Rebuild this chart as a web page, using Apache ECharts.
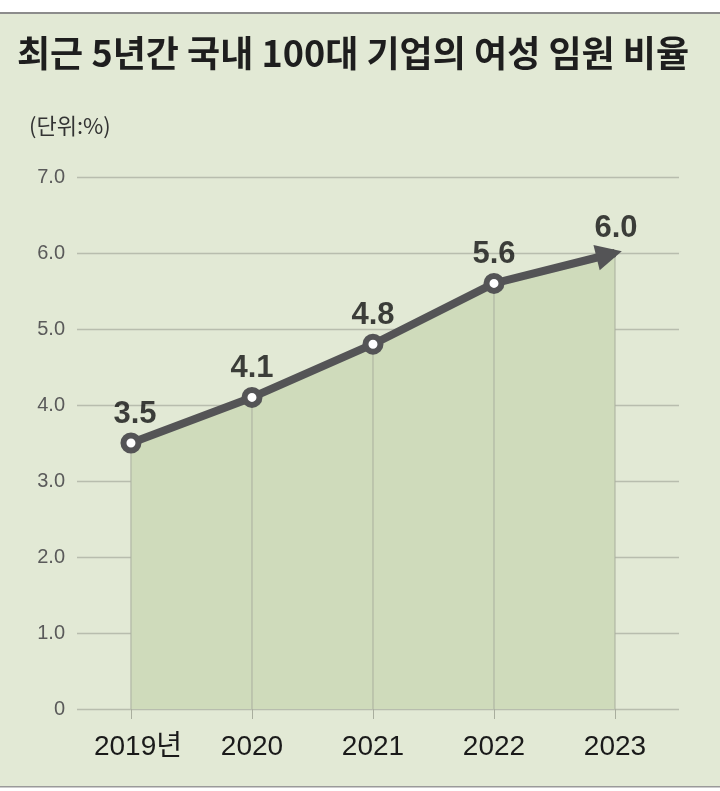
<!DOCTYPE html>
<html>
<head>
<meta charset="utf-8">
<script src="https://cdn.jsdelivr.net/npm/echarts@6/dist/echarts.min.js"></script>
<style>
html,body{margin:0;padding:0;background:#fff;}
#chart{width:720px;height:791px;}
</style>
</head>
<body>
<div id="chart"></div>
<script>
const years = [2019, 2020, 2021, 2022, 2023];
const yearLabels = ['2019년', '2020', '2021', '2022', '2023'];
const ratios = [3.5, 4.1, 4.8, 5.6, 6.0];
const yMin = 0, yMax = 7, yStep = 1;
const titleText = '최근 5년간 국내 100대 기업의 여성 임원 비율';
const unitText = '(단위:%)';

const NARROW = "'Liberation Sans Narrow', 'Liberation Sans', 'Noto Sans CJK KR', sans-serif";
const KR = "'Noto Sans CJK KR', sans-serif";
const lineColor = '#545456';

const points = years.map((y, i) => [y, ratios[i]]);
const lineData = points.map((p, i) => {
  if (i < points.length - 1) return { value: p };
  return {
    value: p,
    symbol: 'triangle',
    symbolSize: [26, 26],
    symbolRotate: -76,
    symbolOffset: [-5.8, 1.5],
    itemStyle: { color: lineColor, borderWidth: 0 }
  };
});
const labelData = points.map((p, i) => {
  const d = { value: p };
  if (i === 0) d.label = { offset: [4, 0] };
  if (i === points.length - 1) d.label = { distance: 9, offset: [1, 0] };
  return d;
});

const chart = echarts.init(document.getElementById('chart'));
chart.setOption({
  backgroundColor: '#ffffff',
  animation: false,
  graphic: [
    { type: 'rect', z: -100, silent: true, shape: { x: 0, y: 12, width: 720, height: 775 }, style: { fill: '#e2e9d5' } },
    { type: 'rect', z: -99, silent: true, shape: { x: 0, y: 12, width: 720, height: 2 }, style: { fill: '#8c8c8c' } },
    { type: 'rect', z: -99, silent: true, shape: { x: 0, y: 786, width: 720, height: 1.5 }, style: { fill: '#9a9a9a' } }
  ],
  title: [
    { text: titleText, left: 17, top: 35, padding: 0,
      textStyle: { fontFamily: KR, fontSize: 36, fontWeight: 'bold', color: '#1e1e1e' } },
    { text: unitText, left: 29, top: 115, padding: 0,
      textStyle: { fontFamily: KR, fontSize: 22, fontWeight: 'normal', color: '#333' } }
  ],
  grid: { left: 77, right: 41, top: 177, bottom: 82, containLabel: false, outerBoundsMode: 'none' },
  xAxis: {
    type: 'value',
    min: 2018.554,
    max: 2023.529,
    axisLine: { show: false },
    splitLine: { show: false },
    axisTick: { show: true, customValues: years, length: 10, lineStyle: { color: '#a9ae9e', width: 1 } },
    axisLabel: {
      customValues: years,
      margin: 24,
      fontFamily: NARROW,
      fontSize: 28,
      color: '#1a1a1a',
      formatter: v => {
        const i = years.indexOf(Math.round(v));
        return i === 0 ? '{f|' + yearLabels[i] + '}' : yearLabels[i];
      },
      rich: { f: { fontFamily: NARROW, fontSize: 28, color: '#1a1a1a', padding: [0, 0, 0, 14] } }
    }
  },
  yAxis: {
    type: 'value',
    min: yMin, max: yMax, interval: yStep,
    axisLine: { show: false },
    axisTick: { show: false },
    splitLine: { show: true, lineStyle: { color: '#b8bdae', width: 1.3 } },
    axisLabel: {
      margin: 12,
      fontFamily: NARROW,
      fontSize: 20,
      color: '#5a5a5a',
      formatter: v => v === 0 ? '0' : v.toFixed(1)
    }
  },
  series: [
    {
      name: 'area', type: 'line', z: 1, data: points, symbol: 'none', silent: true,
      lineStyle: { width: 0, opacity: 0 },
      areaStyle: { color: '#cfdbbb', opacity: 1 }
    },
    {
      name: 'stems', type: 'bar', z: 2, data: points, barWidth: 1, silent: true,
      itemStyle: { color: '#a9ae9e' }
    },
    {
      name: 'ratio', type: 'line', z: 3, data: lineData,
      symbol: 'circle', symbolSize: 15,
      itemStyle: { color: '#ffffff', borderColor: lineColor, borderWidth: 6 },
      lineStyle: { color: lineColor, width: 8, cap: 'butt', join: 'round' }
    },
    {
      name: 'labels', type: 'scatter', z: 4, data: labelData,
      symbol: 'circle', symbolSize: 1, silent: true,
      itemStyle: { color: 'transparent' },
      label: {
        show: true, position: 'top', distance: 13,
        fontFamily: NARROW, fontSize: 31, fontWeight: 'bold', color: '#111111',
        formatter: p => p.value[1].toFixed(1)
      }
    }
  ]
});
</script>
</body>
</html>
